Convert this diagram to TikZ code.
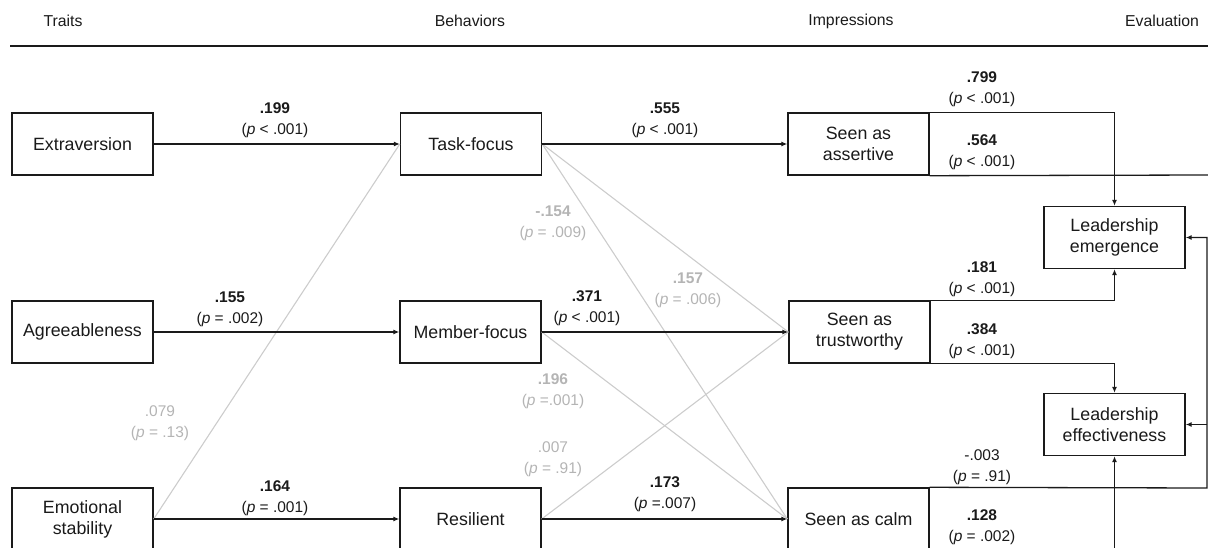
\documentclass[tikz,border=0pt]{standalone}
\usepackage{fontspec}
\setmainfont{Liberation Sans}
\usetikzlibrary{arrows.meta}
\definecolor{lgray}{HTML}{CCCCCC}
\definecolor{tgray}{HTML}{B4B4B4}
\definecolor{ink}{HTML}{1A1A1A}
\begin{document}
\begin{tikzpicture}[x=1pt,y=-1pt,
  box/.style={draw=ink, line width=1.4pt, minimum width=141pt, minimum height=62pt, inner sep=0pt, align=center, font=\fontsize{17.8}{21}\selectfont, text=ink},
  hdr/.style={font=\fontsize{15.8}{19}\selectfont, text=ink},
  lab/.style={align=center, font=\fontsize{15.5}{21}\selectfont, text=ink, inner sep=0pt},
  glab/.style={lab, text=tgray},
  arr/.style={draw=ink, line width=1.3pt, -{Latex[length=6pt,width=5pt]}},
  pth/.style={draw=ink, line width=1.3pt},
  gl/.style={draw=lgray, line width=1.1pt}]
\useasboundingbox (0,0) rectangle (1208,548);
\clip (0,0) rectangle (1208,548);
% headers
\node[hdr] (hT) at (63,21) {Traits};
\node[hdr] (hB) at (470,21) {Behaviors};
\node[hdr] (hI) at (851,21) {Impressions};
\node[hdr] (hE) at (1162,21) {Evaluation};
\coordinate (rl) at (10,46);
\coordinate (rr) at (1208,46);
\draw[draw=ink, line width=2.6pt] (rl) -- (rr);
% boxes
\node[box] (ext) at (82.5,144) {Extraversion};
\node[box] (task) at (471,144) {Task-focus};
\node[box] (assert) at (858.5,144) {Seen as\\assertive};
\node[box] (emer) at (1114.5,237.5) {Leadership\\emergence};
\node[box] (agree) at (82.5,332) {Agreeableness};
\node[box] (member) at (470.5,332) {Member-focus};
\node[box] (trust) at (859.5,332) {Seen as\\trustworthy};
\node[box] (eff) at (1114.5,424.5) {Leadership\\effectiveness};
\node[box] (emo) at (82.5,519) {Emotional\\stability};
\node[box] (res) at (470.5,519) {Resilient};
\node[box] (calm) at (858.5,519) {Seen as calm};
% gray paths
\draw[gl] (emo.east) -- (task.west);
\draw[gl] (task.east) -- (calm.west);
\draw[gl] (task.east) -- (trust.west);
\draw[gl] (member.east) -- (calm.west);
\draw[gl] (res.east) -- (trust.west);
% black paths
\draw[arr] (ext.east) -- (task.west);
\draw[arr] (task.east) -- (assert.west);
\draw[arr] (agree.east) -- (member.west);
\draw[arr] (member.east) -- (trust.west);
\draw[arr] (emo.east) -- (res.west);
\draw[arr] (res.east) -- (calm.west);
\draw[arr] (assert.north east) -| (emer.north);
\coordinate (ae) at (1210,175);
\draw[pth] (assert.south east) -- (ae);
\draw[arr] (trust.north east) -| (emer.south);
\draw[arr] (trust.south east) -| (eff.north);
\coordinate (rc) at (1207,488);
\draw[arr] (calm.north east) -- (rc) |- (emer.east);
\draw[arr] (eff.east -| rc) -- (eff.east);
\coordinate (cb) at (1114.5,560);
\draw[arr] (cb) -- (eff.south);
% labels black
\node[lab] (l1) at (275,120.5) {\textbf{.199}\\(\textit{p} < .001)};
\node[lab] (l2) at (665,120.5) {\textbf{.555}\\(\textit{p} < .001)};
\node[lab] (l3) at (230,309.5) {\textbf{.155}\\(\textit{p} = .002)};
\node[lab] (l4) at (587,308) {\textbf{.371}\\(\textit{p} < .001)};
\node[lab] (l5) at (275,498) {\textbf{.164}\\(\textit{p} = .001)};
\node[lab] (l6) at (665,494) {\textbf{.173}\\(\textit{p} =.007)};
\node[lab] (l7) at (982,89) {\textbf{.799}\\(\textit{p} < .001)};
\node[lab] (l8) at (982,152) {\textbf{.564}\\(\textit{p} < .001)};
\node[lab] (l9) at (982,279) {\textbf{.181}\\(\textit{p} < .001)};
\node[lab] (l10) at (982,341.5) {\textbf{.384}\\(\textit{p} < .001)};
\node[lab] (l11) at (982,467) {-.003\\(\textit{p} = .91)};
\node[lab] (l12) at (982,527) {\textbf{.128}\\(\textit{p} = .002)};
% labels gray
\node[glab] (g1) at (553,223) {\textbf{-.154}\\(\textit{p} = .009)};
\node[glab] (g2) at (688,290.5) {\textbf{.157}\\(\textit{p} = .006)};
\node[glab] (g3) at (553,391) {\textbf{.196}\\(\textit{p} =.001)};
\node[glab] (g4) at (160,423) {.079\\(\textit{p} = .13)};
\node[glab] (g5) at (553,459.5) {.007\\(\textit{p} = .91)};
\end{tikzpicture}
\end{document}
